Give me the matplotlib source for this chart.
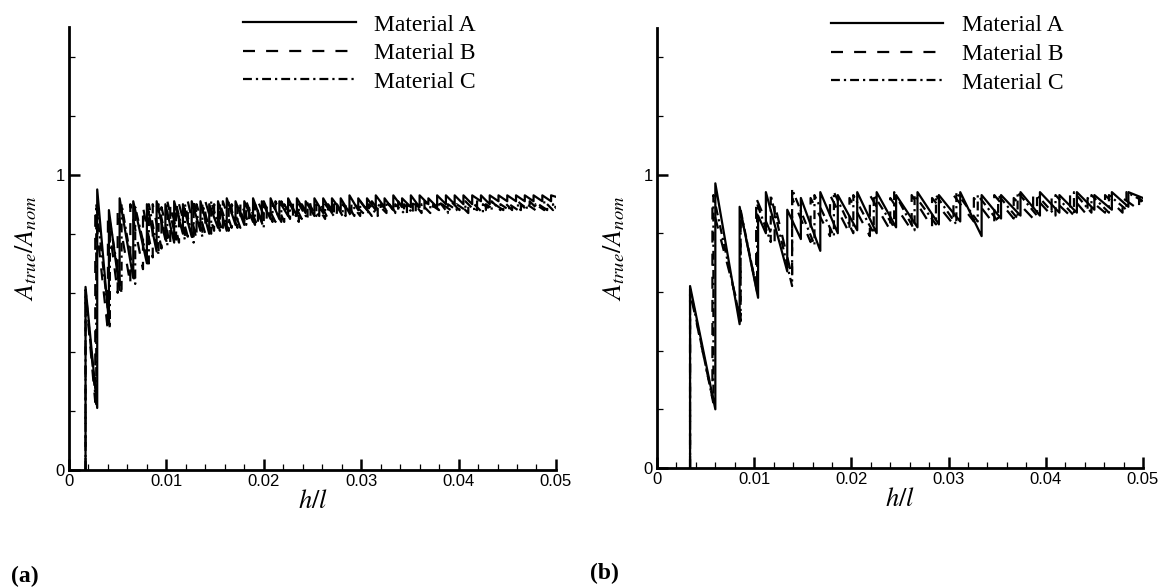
import matplotlib
matplotlib.use("Agg")
import matplotlib.pyplot as plt

plt.rcParams["mathtext.fontset"] = "stix"
plt.rcParams["font.family"] = ["Liberation Sans", "DejaVu Sans"]

MATERIALS = ["Material A", "Material B", "Material C"]
X_TICKS = [0, 0.01, 0.02, 0.03, 0.04, 0.05]
X_TICK_LABELS = ["0", "0.01", "0.02", "0.03", "0.04", "0.05"]
Y_TICKS = [0, 1]
Y_TICK_LABELS = ["0", "1"]

# each tooth: (h/l where contact jumps, value just before, value just after)
LEFT_A = [
    (0.0017, 0.00, 0.62), (0.0029, 0.21, 0.95), (0.0041, 0.50, 0.88),
    (0.0052, 0.61, 0.92), (0.0066, 0.65, 0.91), (0.0080, 0.70, 0.90),
    (0.0090, 0.74, 0.91), (0.0099, 0.78, 0.90), (0.0108, 0.77, 0.91),
    (0.0117, 0.80, 0.90), (0.0126, 0.79, 0.91), (0.0135, 0.81, 0.91),
    (0.0144, 0.80, 0.90), (0.0153, 0.82, 0.91), (0.0162, 0.81, 0.92),
    (0.0171, 0.83, 0.91), (0.0180, 0.83, 0.91), (0.0189, 0.84, 0.92),
    (0.0198, 0.84, 0.91), (0.0207, 0.85, 0.92), (0.0216, 0.85, 0.91),
    (0.0225, 0.86, 0.92), (0.0234, 0.86, 0.92), (0.0243, 0.87, 0.91),
    (0.0252, 0.86, 0.92), (0.0261, 0.87, 0.92), (0.0270, 0.87, 0.92),
    (0.0279, 0.88, 0.92), (0.0288, 0.87, 0.93), (0.0297, 0.88, 0.92),
    (0.0306, 0.88, 0.92), (0.0315, 0.88, 0.93), (0.0324, 0.89, 0.92),
    (0.0333, 0.88, 0.93), (0.0342, 0.89, 0.92), (0.0351, 0.89, 0.93),
    (0.0360, 0.89, 0.93), (0.0369, 0.90, 0.92), (0.0378, 0.89, 0.93),
    (0.0387, 0.90, 0.93), (0.0396, 0.90, 0.93), (0.0405, 0.90, 0.93),
    (0.0414, 0.90, 0.93), (0.0423, 0.91, 0.93), (0.0432, 0.90, 0.93),
    (0.0441, 0.91, 0.93), (0.0450, 0.91, 0.93), (0.0459, 0.91, 0.93),
    (0.0468, 0.91, 0.93), (0.0477, 0.91, 0.93), (0.0486, 0.91, 0.93),
    (0.0495, 0.91, 0.93),
]
LEFT_A_END = 0.925

LEFT_B = [
    (0.0017, 0.00, 0.60), (0.0027, 0.23, 0.87), (0.0040, 0.47, 0.86),
    (0.0050, 0.60, 0.88), (0.0063, 0.63, 0.90), (0.0076, 0.68, 0.89),
    (0.0086, 0.72, 0.90), (0.0095, 0.75, 0.89), (0.0104, 0.76, 0.90),
    (0.0113, 0.77, 0.90), (0.0122, 0.79, 0.91), (0.0131, 0.78, 0.90),
    (0.0140, 0.80, 0.91), (0.0149, 0.81, 0.90), (0.0158, 0.80, 0.91),
    (0.0167, 0.82, 0.90), (0.0176, 0.82, 0.91), (0.0185, 0.83, 0.90),
    (0.0194, 0.82, 0.91), (0.0203, 0.84, 0.90), (0.0212, 0.84, 0.91),
    (0.0221, 0.84, 0.90), (0.0230, 0.85, 0.91), (0.0239, 0.85, 0.90),
    (0.0248, 0.85, 0.90), (0.0257, 0.86, 0.91), (0.0266, 0.85, 0.90),
    (0.0275, 0.86, 0.90), (0.0284, 0.86, 0.91), (0.0293, 0.86, 0.90),
    (0.0302, 0.87, 0.90), (0.0311, 0.86, 0.91), (0.0320, 0.87, 0.90),
    (0.0329, 0.87, 0.90), (0.0338, 0.86, 0.91), (0.0347, 0.87, 0.90),
    (0.0356, 0.87, 0.90), (0.0365, 0.87, 0.91), (0.0374, 0.88, 0.90),
    (0.0383, 0.87, 0.90), (0.0392, 0.88, 0.91), (0.0401, 0.88, 0.90),
    (0.0410, 0.87, 0.90), (0.0419, 0.88, 0.91), (0.0428, 0.88, 0.90),
    (0.0437, 0.88, 0.90), (0.0446, 0.88, 0.91), (0.0455, 0.88, 0.90),
    (0.0464, 0.88, 0.90), (0.0473, 0.88, 0.91), (0.0482, 0.88, 0.90),
    (0.0491, 0.88, 0.90),
]
LEFT_B_END = 0.89

LEFT_C = [
    (0.0017, 0.00, 0.61), (0.0028, 0.22, 0.90), (0.0042, 0.48, 0.84),
    (0.0054, 0.60, 0.90), (0.0068, 0.63, 0.89), (0.0082, 0.69, 0.90),
    (0.0092, 0.73, 0.90), (0.0101, 0.76, 0.91), (0.0110, 0.78, 0.90),
    (0.0119, 0.78, 0.90), (0.0128, 0.77, 0.91), (0.0137, 0.79, 0.90),
    (0.0146, 0.80, 0.91), (0.0155, 0.81, 0.90), (0.0164, 0.81, 0.91),
    (0.0173, 0.82, 0.90), (0.0182, 0.83, 0.91), (0.0191, 0.83, 0.90),
    (0.0200, 0.82, 0.91), (0.0209, 0.84, 0.90), (0.0218, 0.84, 0.91),
    (0.0227, 0.85, 0.90), (0.0236, 0.84, 0.90), (0.0245, 0.85, 0.91),
    (0.0254, 0.86, 0.90), (0.0263, 0.85, 0.90), (0.0272, 0.86, 0.91),
    (0.0281, 0.86, 0.90), (0.0290, 0.86, 0.90), (0.0299, 0.86, 0.91),
    (0.0308, 0.87, 0.90), (0.0317, 0.86, 0.90), (0.0326, 0.87, 0.91),
    (0.0335, 0.87, 0.90), (0.0344, 0.87, 0.90), (0.0353, 0.87, 0.91),
    (0.0362, 0.87, 0.90), (0.0371, 0.87, 0.90), (0.0380, 0.88, 0.91),
    (0.0389, 0.87, 0.90), (0.0398, 0.88, 0.90), (0.0407, 0.88, 0.91),
    (0.0416, 0.88, 0.90), (0.0425, 0.87, 0.90), (0.0434, 0.88, 0.91),
    (0.0443, 0.88, 0.90), (0.0452, 0.88, 0.90), (0.0461, 0.88, 0.91),
    (0.0470, 0.88, 0.90), (0.0479, 0.88, 0.90), (0.0488, 0.88, 0.91),
    (0.0497, 0.88, 0.90),
]
LEFT_C_END = 0.885

RIGHT_A = [
    (0.0034, 0.00, 0.62), (0.0060, 0.20, 0.97), (0.0085, 0.49, 0.89),
    (0.0104, 0.58, 0.86), (0.0112, 0.80, 0.94), (0.0134, 0.67, 0.88),
    (0.0148, 0.78, 0.92), (0.0168, 0.74, 0.94), (0.0186, 0.80, 0.93),
    (0.0206, 0.81, 0.94), (0.0226, 0.80, 0.94), (0.0246, 0.82, 0.93),
    (0.0268, 0.82, 0.94), (0.0290, 0.83, 0.93), (0.0312, 0.84, 0.94),
    (0.0334, 0.79, 0.93), (0.0354, 0.85, 0.93), (0.0374, 0.86, 0.94),
    (0.0394, 0.86, 0.94), (0.0414, 0.87, 0.93), (0.0432, 0.87, 0.94),
    (0.0450, 0.88, 0.93), (0.0468, 0.88, 0.94), (0.0485, 0.89, 0.94),
]
RIGHT_A_END = 0.92

RIGHT_B = [
    (0.0034, 0.00, 0.60), (0.0057, 0.24, 0.89), (0.0086, 0.52, 0.87),
    (0.0102, 0.62, 0.92), (0.0121, 0.77, 0.90), (0.0139, 0.65, 0.92),
    (0.0158, 0.77, 0.92), (0.0178, 0.79, 0.93), (0.0198, 0.80, 0.92),
    (0.0219, 0.79, 0.93), (0.0240, 0.81, 0.92), (0.0262, 0.81, 0.93),
    (0.0283, 0.82, 0.92), (0.0305, 0.83, 0.93), (0.0326, 0.84, 0.92),
    (0.0347, 0.83, 0.93), (0.0367, 0.85, 0.92), (0.0387, 0.85, 0.93),
    (0.0406, 0.86, 0.92), (0.0425, 0.86, 0.93), (0.0443, 0.86, 0.92),
    (0.0461, 0.87, 0.93), (0.0479, 0.87, 0.92), (0.0496, 0.88, 0.92),
]
RIGHT_B_END = 0.90

RIGHT_C = [
    (0.0034, 0.00, 0.61), (0.0058, 0.22, 0.93), (0.0086, 0.50, 0.88),
    (0.0103, 0.60, 0.90), (0.0117, 0.77, 0.93), (0.0139, 0.62, 0.95),
    (0.0162, 0.76, 0.93), (0.0182, 0.79, 0.94), (0.0202, 0.80, 0.93),
    (0.0223, 0.80, 0.93), (0.0244, 0.82, 0.94), (0.0265, 0.81, 0.93),
    (0.0287, 0.83, 0.93), (0.0308, 0.83, 0.94), (0.0330, 0.84, 0.93),
    (0.0351, 0.84, 0.93), (0.0371, 0.85, 0.94), (0.0391, 0.86, 0.93),
    (0.0410, 0.86, 0.93), (0.0429, 0.86, 0.94), (0.0447, 0.87, 0.93),
    (0.0465, 0.87, 0.93), (0.0483, 0.88, 0.94),
]
RIGHT_C_END = 0.91

STYLES = ["-", (0, (5.4, 5.0)), (0, (4.0, 1.8, 1.0, 1.8))]
LW = 1.6


def sawtooth(teeth, y_end):
    # vertical jump at each tooth, straight decay to the next one
    xs, ys = [], []
    for x, lo, hi in teeth:
        xs += [x, x]
        ys += [lo, hi]
    xs.append(0.05)
    ys.append(y_end)
    return xs, ys


def draw_panel(ax, curves, tag, tag_x):
    for (teeth, y_end), name, ls in zip(curves, MATERIALS, STYLES):
        xs, ys = sawtooth(teeth, y_end)
        ax.plot(xs, ys, color="black", lw=LW, linestyle=ls, label=name)

    ax.set_xlim(0, 0.05)
    ax.set_ylim(0, 1.5)
    ax.set_xticks(X_TICKS)
    ax.set_xticklabels(X_TICK_LABELS)
    ax.set_xticks([i * 0.002 for i in range(26)], minor=True)
    ax.set_yticks(Y_TICKS)
    ax.set_yticklabels(Y_TICK_LABELS)
    ax.set_yticks([0.2, 0.4, 0.6, 0.8, 1.2, 1.4], minor=True)
    ax.tick_params(which="major", direction="in", length=8, width=1.8,
                   labelsize=12, pad=3)
    ax.tick_params(which="minor", direction="in", length=4, width=0.9)

    for side in ["top", "right"]:
        ax.spines[side].set_visible(False)
    for side in ["left", "bottom"]:
        ax.spines[side].set_linewidth(2)

    ax.set_xlabel(r"$h/l$", fontsize=19, labelpad=0)
    ax.set_ylabel(r"$A_{true}/A_{nom}$", fontsize=19, labelpad=12)

    ax.legend(loc="upper left", bbox_to_anchor=(0.334, 1.056),
              frameon=False, handlelength=4.75, handletextpad=0.8,
              labelspacing=0.3, borderpad=0,
              prop={"family": "Liberation Serif", "size": 17})

    ax.text(tag_x, -0.24, tag, transform=ax.transAxes, fontsize=17,
            fontweight="bold", family="Liberation Serif", va="center")


fig = plt.figure(figsize=(11.67, 5.87), dpi=100)
ax1 = fig.add_axes([0.0591, 0.1993, 0.4173, 0.7547])
ax2 = fig.add_axes([0.5630, 0.2027, 0.4164, 0.7500])

draw_panel(ax1, [(LEFT_A, LEFT_A_END), (LEFT_B, LEFT_B_END), (LEFT_C, LEFT_C_END)], "(a)", -0.12)
draw_panel(ax2, [(RIGHT_A, RIGHT_A_END), (RIGHT_B, RIGHT_B_END), (RIGHT_C, RIGHT_C_END)], "(b)", -0.138)

fig.savefig("out.png", dpi=100)
